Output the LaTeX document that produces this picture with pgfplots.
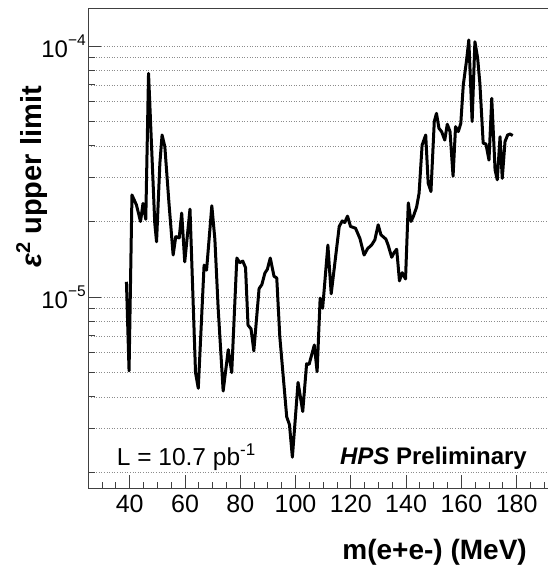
\documentclass[border=0pt]{standalone}
\usepackage{pgfplots}
\pgfplotsset{compat=1.18}
\usepackage{fontspec}
\setmainfont{Liberation Sans}
\newcommand\sups[3]{\raisebox{#2}{\fontsize{#3}{#3}\selectfont #1}}
\begin{document}
\begin{tikzpicture}
\useasboundingbox (0pt,0pt) rectangle (547pt,571pt);
\begin{axis}[
  at={(88.3pt,83pt)}, anchor=south west,
  scale only axis, width=460.1pt, height=479.7pt,
  ymode=log,
  xmin=25, xmax=191.5, ymin=1.734e-6, ymax=1.413e-4,
  axis x line*=box, axis y line*=left,
  axis line style={-, line width=0.9pt, black!75},
  xtick pos=bottom, ytick pos=left,
  tick align=inside,
  xtick={40,60,80,100,120,140,160,180},
  minor xtick={25,30,...,190},
  ytick={1e-5,1e-4},
  yticklabels={10\sups{−5}{12pt}{15.5}, 10\sups{−4}{12pt}{15.5}},
  minor ytick={2e-6,3e-6,4e-6,5e-6,6e-6,7e-6,8e-6,9e-6,2e-5,3e-5,4e-5,5e-5,6e-5,7e-5,8e-5,9e-5},
  major tick length=13pt, minor tick length=6.5pt,
  every tick/.style={black!75, line width=0.9pt},
  ymajorgrids, yminorgrids,
  grid style={black!45, line width=0.7pt, dash pattern=on 1pt off 1.6pt},
  /pgf/number format/assume math mode=true,
  xticklabel style={font=\fontsize{25}{25}\selectfont, yshift=-3pt},
  yticklabel style={font=\fontsize{24}{24}\selectfont, xshift=1pt},
  clip=false,
]
\addplot[black, line width=3pt, line join=round] coordinates {
(38.8,1.15e-5) (39.75,5.08e-6) (40.8,2.55e-5) (42.4,2.33e-5) (43.9,2.00e-5)
(44.8,2.36e-5) (45.8,2.04e-5) (46.8,7.78e-5) (49.05,1.97e-5) (49.7,1.66e-5)
(50.9,3.41e-5) (51.7,4.42e-5) (52.7,3.97e-5) (54.2,2.36e-5) (55.7,1.47e-5)
(56.65,1.74e-5) (57.9,1.72e-5) (58.8,2.16e-5) (59.9,1.38e-5) (61.8,2.24e-5)
(63.8,5.0e-6) (64.8,4.33e-6) (66.9,1.34e-5) (67.8,1.28e-5) (69.7,2.31e-5)
(70.8,1.7e-5) (72.0,9.0e-6) (73.8,4.22e-6) (75.65,6.17e-6) (76.9,5.0e-6)
(78.75,1.43e-5) (79.8,1.37e-5) (80.9,1.39e-5) (81.9,1.31e-5) (82.8,7.73e-6)
(83.9,7.46e-6) (84.9,6.1e-6) (86.8,1.08e-5) (87.8,1.12e-5) (88.9,1.245e-5)
(89.8,1.29e-5) (90.85,1.43e-5) (92.2,1.21e-5) (93.2,1.19e-5) (94.3,6.95e-6)
(96.8,3.33e-6) (97.8,3.1e-6) (98.85,2.3e-6) (100.9,4.57e-6) (102.6,3.5e-6)
(104.0,5.42e-6) (104.9,5.39e-6) (106.8,6.44e-6) (107.8,5.04e-6) (108.9,9.9e-6)
(109.8,9.02e-6) (111.7,1.61e-5) (112.9,1.03e-5) (115.8,1.91e-5) (116.9,2.01e-5)
(117.8,1.98e-5) (118.8,2.10e-5) (119.9,1.91e-5) (121.7,1.88e-5) (123.3,1.71e-5)
(124.8,1.47e-5) (126.1,1.56e-5) (127.5,1.61e-5) (128.7,1.69e-5) (129.9,1.94e-5)
(130.9,1.77e-5) (132.7,1.70e-5) (133.5,1.61e-5) (134.8,1.44e-5) (135.6,1.50e-5)
(136.6,1.55e-5) (137.6,1.16e-5) (138.6,1.25e-5) (139.8,1.18e-5) (140.8,2.37e-5)
(141.8,2.0e-5) (142.6,2.09e-5) (143.8,2.28e-5) (144.7,2.59e-5) (145.8,4.03e-5)
(147.1,4.42e-5) (148.0,2.84e-5) (149.0,2.63e-5) (150.2,5.0e-5) (151.0,5.39e-5)
(151.9,4.70e-5) (152.85,4.56e-5) (154.0,4.22e-5) (154.9,4.88e-5) (155.9,4.56e-5)
(157.0,3.03e-5) (157.9,4.77e-5) (158.9,4.56e-5) (159.8,4.92e-5) (160.7,7.0e-5)
(161.9,8.8e-5) (162.7,1.057e-4) (163.9,5.0e-5) (164.9,1.04e-4) (165.9,8.93e-5)
(166.7,7.1e-5) (167.9,4.10e-5) (168.9,4.07e-5) (170.0,3.51e-5) (171.0,6.19e-5)
(172.2,3.21e-5) (173.0,2.93e-5) (174.0,4.35e-5) (174.8,2.97e-5) (175.8,4.16e-5)
(176.75,4.42e-5) (177.6,4.46e-5) (178.6,4.40e-5)
};
\end{axis}
\node[anchor=base, rotate=90, inner sep=0pt, font=\bfseries\fontsize{29}{29}\selectfont] at (41pt,394pt) {\textit{ε}\sups{2}{11pt}{20} upper limit};
\node[anchor=base east, inner sep=0pt, font=\bfseries\fontsize{28}{28}\selectfont] at (527pt,11pt) {m(e+e-) (MeV)};
\node[anchor=base west, inner sep=0pt, font=\fontsize{24.5}{24.5}\selectfont] at (116.7pt,105pt) {L = 10.7 pb\sups{-1}{10pt}{17}};
\node[anchor=base east, inner sep=0pt, font=\bfseries\fontsize{24}{24}\selectfont] at (527pt,106pt) {\textit{HPS} Preliminary};
\end{tikzpicture}
\end{document}
